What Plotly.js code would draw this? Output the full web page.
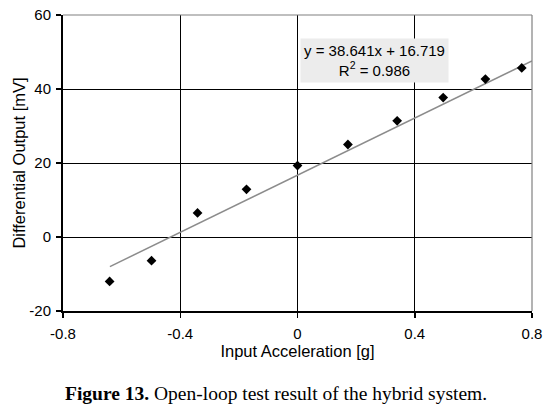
<!DOCTYPE html>
<html>
<head>
<meta charset="utf-8">
<script src="https://cdn.plot.ly/plotly-3.0.1.min.js"></script>
<style>html,body{margin:0;padding:0;background:#fff;}#chart{width:557px;height:411px;}</style>
</head>
<body>
<div id="chart"></div>
<script>
// Measured data
var accel = [-0.641, -0.498, -0.341, -0.174, 0.0, 0.172, 0.340, 0.497, 0.641, 0.765];
var output = [-12.0, -6.4, 6.5, 12.9, 19.3, 25.0, 31.4, 37.7, 42.7, 45.7];
// Linear trend line endpoints (as drawn)
var trendX = [-0.64, 0.8];
var trendY = [-8.0, 47.6];
var xTicks = [-0.8, -0.4, 0, 0.4, 0.8];
var xTickText = ["-0.8", "-0.4", "0", "0.4", "0.8"];
var yTicks = [-20, 0, 20, 40, 60];
var yTickText = ["-20", "0", "20", "40", "60"];
var eqText = "y = 38.641x + 16.719<br>R<sup>2</sup> = 0.986";
var captionText = "<b>Figure 13.</b> Open-loop test result of the hybrid system.";

var font = "Liberation Sans, Arial, sans-serif";

var traces = [
  {x: trendX, y: trendY, mode: "lines", type: "scatter",
   line: {color: "#8c8c8c", width: 1.5}, hoverinfo: "skip"},
  {x: accel, y: output, mode: "markers", type: "scatter",
   marker: {symbol: "diamond", color: "#000", size: 7.5}}
];

var layout = {
  width: 557, height: 411,
  margin: {l: 63, r: 25, t: 15, b: 100},
  paper_bgcolor: "#fff", plot_bgcolor: "#fff",
  showlegend: false,
  font: {family: font, size: 15, color: "#000"},
  xaxis: {
    range: [-0.8, 0.8], tickvals: xTicks, ticktext: xTickText,
    showgrid: true, gridcolor: "#000", gridwidth: 1,
    zeroline: false, showline: true, linecolor: "#000", linewidth: 2,
    ticks: "outside", ticklen: 5, tickcolor: "#000", tickwidth: 1.5,
    ticklabelstandoff: 3,
    tickfont: {family: font, size: 15},
    title: {text: "Input Acceleration [g]", font: {family: font, size: 16.5}, standoff: 0}
  },
  yaxis: {
    range: [-20, 60], tickvals: yTicks, ticktext: yTickText,
    showgrid: true, gridcolor: "#000", gridwidth: 1,
    zeroline: false, showline: true, linecolor: "#000", linewidth: 2,
    ticks: "outside", ticklen: 5, tickcolor: "#000", tickwidth: 1.5,
    ticklabelstandoff: 2,
    tickfont: {family: font, size: 15},
    title: {text: "Differential Output [mV]", font: {family: font, size: 16.5}, standoff: 0}
  },
  shapes: [
    {type: "line", xref: "paper", yref: "paper", x0: 0, x1: 1, y0: 1, y1: 1,
     line: {color: "#808080", width: 1.2}, layer: "above"},
    {type: "line", xref: "paper", yref: "paper", x0: 1, x1: 1, y0: 0, y1: 1,
     line: {color: "#808080", width: 1.2}, layer: "above"}
  ],
  annotations: [
    {x: 0.262, y: 47.8, xref: "x", yref: "y", text: eqText, showarrow: false,
     bgcolor: "#ececec", borderpad: 3, align: "center",
     font: {family: font, size: 15, color: "#000"}},
    {x: 0, y: -0.28, xref: "paper", yref: "paper", text: captionText, showarrow: false,
     xanchor: "left", yanchor: "middle",
     font: {family: "Liberation Serif, Times New Roman, serif", size: 19.5, color: "#000"}}
  ]
};
Plotly.newPlot("chart", traces, layout, {displayModeBar: false, staticPlot: true});
</script>
</body>
</html>
